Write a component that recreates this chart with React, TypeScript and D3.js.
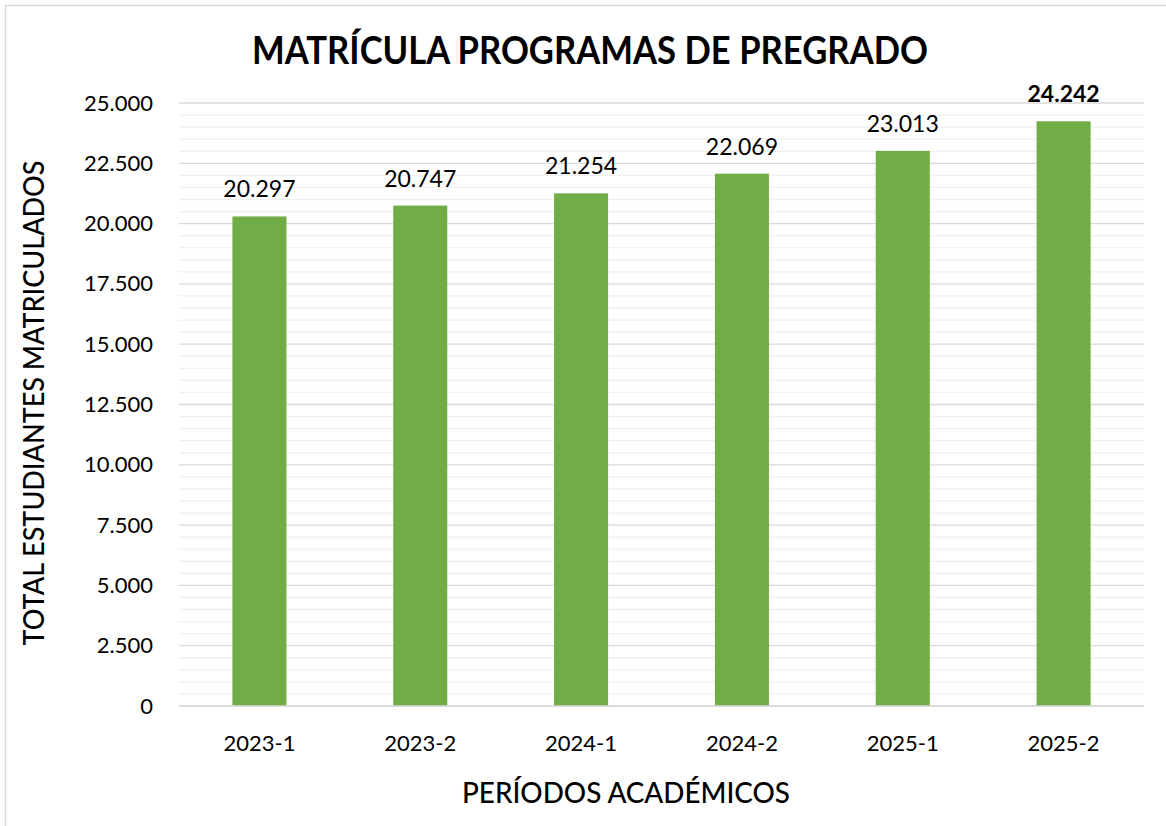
import React from "react";
import * as d3 from "d3";

const categories: string[] = ["2023-1", "2023-2", "2024-1", "2024-2", "2025-1", "2025-2"];
const values: number[] = [20297, 20747, 21254, 22069, 23013, 24242];
const majorTicks: number[] = [0, 2500, 5000, 7500, 10000, 12500, 15000, 17500, 20000, 22500, 25000];
const minorTicks: number[] = d3.range(0, 25001, 500);

const title = "MATRÍCULA PROGRAMAS DE PREGRADO";
const xTitle = "PERÍODOS ACADÉMICOS";
const yTitle = "TOTAL ESTUDIANTES MATRICULADOS";

const W = 1166;
const H = 826;
const left = 179;
const right = 1144;
const top = 103;
const bottom = 706;
const FONT = "Lato, 'Open Sans', sans-serif";

const fmt = (v: number) => {
  const s = String(v);
  return s.replace(/\B(?=(\d{3})+(?!\d))/g, ".");
};

export default function App() {
  const x = d3.scaleBand<string>().domain(categories).range([left, right]).paddingInner(0.664).paddingOuter(0.332);
  const y = d3.scaleLinear().domain([0, 25000]).range([bottom, top]);

  return (
    <svg width={W} height={H} style={{ position: "absolute", left: 0, top: 0, background: "#fff" }}>
      <rect x={5.5} y={5.5} width={W + 10} height={H + 10} fill="#fff" stroke="#d9d9d9" strokeWidth={1.5} />
      {minorTicks.filter((t) => t % 2500 !== 0).map((t) => (
        <line key={"m" + t} x1={left} x2={right} y1={y(t)} y2={y(t)} stroke="#f0f0f0" strokeWidth={1.3} />
      ))}
      {majorTicks.map((t) => (
        <line key={"M" + t} x1={left} x2={right} y1={y(t)} y2={y(t)} stroke="#d9d9d9" strokeWidth={1.3} />
      ))}
      {majorTicks.map((t) => (
        <text key={"l" + t} x={153} y={y(t) + 7.5} textAnchor="end" fontFamily={FONT} fontSize={22} fill="#000">
          {fmt(t)}
        </text>
      ))}
      {categories.map((c, i) => (
        <g key={c}>
          <rect x={x(c)} y={y(values[i])} width={x.bandwidth()} height={bottom - y(values[i])} fill="#70ad47" />
          <text
            x={(x(c) as number) + x.bandwidth() / 2}
            y={y(values[i]) - 19}
            textAnchor="middle"
            fontFamily={FONT}
            fontSize={23}
            fontWeight={i === categories.length - 1 ? 700 : 400}
            fill="#000"
          >
            {fmt(values[i])}
          </text>
          <text
            x={(x(c) as number) + x.bandwidth() / 2}
            y={751}
            textAnchor="middle"
            fontFamily={FONT}
            fontSize={22}
            fill="#000"
          >
            {c}
          </text>
        </g>
      ))}
      <line x1={left} x2={right} y1={bottom} y2={bottom} stroke="#d9d9d9" strokeWidth={1.5} />
      <text x={590} y={64} textAnchor="middle" fontFamily={FONT} fontSize={38} fontWeight={700} textLength={676} lengthAdjust="spacingAndGlyphs" fill="#000">
        {title}
      </text>
      <text x={626} y={803} textAnchor="middle" fontFamily={FONT} fontSize={28} fontWeight={500} textLength={328} lengthAdjust="spacingAndGlyphs" fill="#000">
        {xTitle}
      </text>
      <text
        transform={`translate(44, 403) rotate(-90)`}
        textAnchor="middle"
        fontFamily={FONT}
        fontSize={28}
        fontWeight={500}
        textLength={485}
        lengthAdjust="spacingAndGlyphs"
        fill="#000"
      >
        {yTitle}
      </text>
    </svg>
  );
}
